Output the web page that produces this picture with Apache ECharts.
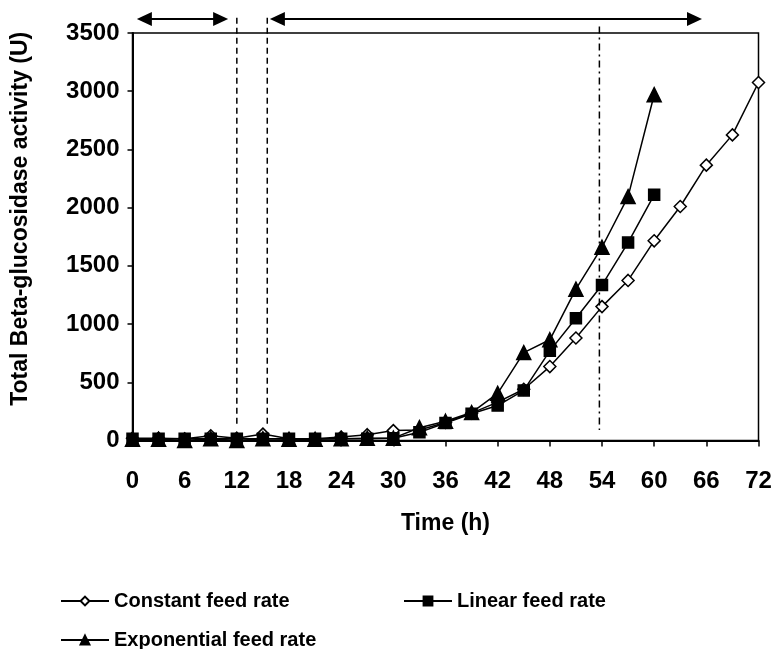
<!DOCTYPE html>
<html>
<head>
<meta charset="utf-8">
<script src="https://cdn.jsdelivr.net/npm/echarts@6/dist/echarts.min.js"></script>
<style>
  html, body { margin: 0; padding: 0; background: #fff; }
  #chart { width: 784px; height: 649px; }
</style>
</head>
<body>
<div id="chart"></div>
<script>
// Sampling times (h)
const hours = [0, 3, 6, 9, 12, 15, 18, 21, 24, 27, 30, 33, 36, 39, 42, 45, 48, 51, 54, 57, 60, 63, 66, 69, 72];

// Total beta-glucosidase activity (U) for each feeding strategy
const constantFeed = [20, 20, 15, 40, 20, 55, 15, 15, 30, 50, 85, 90, 155, 235, 330, 440, 635, 880, 1150, 1375, 1715, 2010, 2365, 2625, 3075];
const linearFeed = [15, 15, 15, 15, 15, 15, 15, 15, 15, 15, 20, 70, 150, 230, 300, 430, 770, 1050, 1335, 1700, 2110];
const exponentialFeed = [10, 10, 0, 15, 0, 15, 10, 10, 15, 20, 20, 110, 165, 240, 405, 755, 865, 1300, 1660, 2095, 2970];

const seriesNames = ['Constant feed rate', 'Linear feed rate', 'Exponential feed rate'];

// Axis ticks
const xTicks = { min: 0, max: 72, step: 6 };
const yTicks = { min: 0, max: 3500, step: 500 };

// Phase boundaries (h) and the induction time (h)
const phaseBoundaries = [12, 15.5];
const inductionTime = 53.7;
// Phase arrows: [start h, end h]
const phaseArrows = [[0.5, 11], [15.8, 65.5]];
// Heights (U) used for the annotation layer above the plot
const arrowLevel = 3620;
const dashedSpan = [3630, 125];
const dashDotSpan = [3555, 90];

const FONT = '"Liberation Sans", Arial, Helvetica, sans-serif';

const pairs = (vals) => vals.map((v, i) => [hours[i], v]);

const chart = echarts.init(document.getElementById('chart'), null, { renderer: 'canvas' });

const lineBase = {
  type: 'line',
  lineStyle: { color: '#000', width: 1.5 },
  itemStyle: { color: '#000', borderColor: '#000', borderWidth: 1.5 },
  emphasis: { disabled: true },
  clip: false
};

const legendBase = {
  itemWidth: 48,
  itemHeight: 11,
  itemGap: 0,
  textStyle: { fontFamily: FONT, fontWeight: 'bold', fontSize: 20, color: '#000' }
};

chart.setOption({
  animation: false,
  backgroundColor: '#fff',
  grid: {
    left: 132.5, right: 25.5, top: 33, bottom: 208.5,
    show: true, borderColor: '#000', borderWidth: 1.5, backgroundColor: 'transparent'
  },
  legend: [
    Object.assign({}, legendBase, { data: [seriesNames[0]], left: 55, top: 586 }),
    Object.assign({}, legendBase, { data: [seriesNames[1]], left: 398, top: 586 }),
    Object.assign({}, legendBase, { data: [seriesNames[2]], left: 55, top: 625 })
  ],
  xAxis: {
    type: 'value',
    min: xTicks.min, max: xTicks.max, interval: xTicks.step,
    name: 'Time (h)',
    nameLocation: 'middle',
    nameGap: 72,
    nameTextStyle: { fontFamily: FONT, fontWeight: 'bold', fontSize: 23, color: '#000' },
    axisLine: { lineStyle: { color: '#000', width: 2 } },
    axisTick: { show: true, inside: false, length: 6, lineStyle: { color: '#000', width: 1.5 } },
    axisLabel: { fontFamily: FONT, fontWeight: 'bold', fontSize: 24, color: '#000', margin: 29 },
    splitLine: { show: false }
  },
  yAxis: {
    type: 'value',
    min: yTicks.min, max: yTicks.max, interval: yTicks.step,
    name: 'Total Beta-glucosidase activity (U)',
    nameLocation: 'middle',
    nameGap: 100,
    nameRotate: 90,
    nameTextStyle: { fontFamily: FONT, fontWeight: 'bold', fontSize: 23, color: '#000', padding: [0, 0, 0, 36] },
    axisLine: { show: true, lineStyle: { color: '#000', width: 2 } },
    axisTick: { show: true, inside: false, length: 5, lineStyle: { color: '#000', width: 1.5 } },
    axisLabel: {
      fontFamily: FONT, fontWeight: 'bold', fontSize: 24, color: '#000', margin: 13,
      formatter: (v) => String(v)
    },
    splitLine: { show: false }
  },
  series: [
    Object.assign({}, lineBase, {
      name: seriesNames[0], data: pairs(constantFeed), z: 2,
      symbol: 'diamond', symbolSize: 12,
      itemStyle: { color: '#fff', borderColor: '#000', borderWidth: 1.5 }
    }),
    Object.assign({}, lineBase, {
      name: seriesNames[1], data: pairs(linearFeed), z: 3,
      symbol: 'rect', symbolSize: 11
    }),
    Object.assign({}, lineBase, {
      name: seriesNames[2], data: pairs(exponentialFeed), z: 4,
      symbol: 'triangle', symbolSize: 14
    })
  ]
});

// Annotation layer: phase boundaries, induction line and phase arrows
function px(h, u) { return chart.convertToPixel({ gridIndex: 0 }, [h, u]); }

function arrowHead(tipX, y, dir) {
  const len = 15, half = 7;
  return {
    type: 'polygon',
    shape: { points: [[tipX, y], [tipX - dir * len, y - half], [tipX - dir * len, y + half]] },
    style: { fill: '#000' },
    silent: true
  };
}

const graphics = [];
phaseBoundaries.forEach((h) => {
  const a = px(h, dashedSpan[0]), b = px(h, dashedSpan[1]);
  graphics.push({
    type: 'line', silent: true, z: 10,
    shape: { x1: a[0], y1: a[1], x2: b[0], y2: b[1] },
    style: { stroke: '#000', lineWidth: 1.5, lineDash: [6, 4] }
  });
});
{
  const a = px(inductionTime, dashDotSpan[0]), b = px(inductionTime, dashDotSpan[1]);
  graphics.push({
    type: 'line', silent: true, z: 10,
    shape: { x1: a[0], y1: a[1], x2: b[0], y2: b[1] },
    style: { stroke: '#000', lineWidth: 1.5, lineDash: [7, 4, 2, 4] }
  });
}
phaseArrows.forEach(([h0, h1]) => {
  const a = px(h0, arrowLevel), b = px(h1, arrowLevel);
  graphics.push({
    type: 'line', silent: true, z: 10,
    shape: { x1: a[0] + 8, y1: a[1], x2: b[0] - 8, y2: b[1] },
    style: { stroke: '#000', lineWidth: 2 }
  });
  graphics.push(Object.assign(arrowHead(a[0], a[1], -1), { z: 10 }));
  graphics.push(Object.assign(arrowHead(b[0], b[1], 1), { z: 10 }));
});

chart.setOption({ graphic: graphics });
</script>
</body>
</html>
